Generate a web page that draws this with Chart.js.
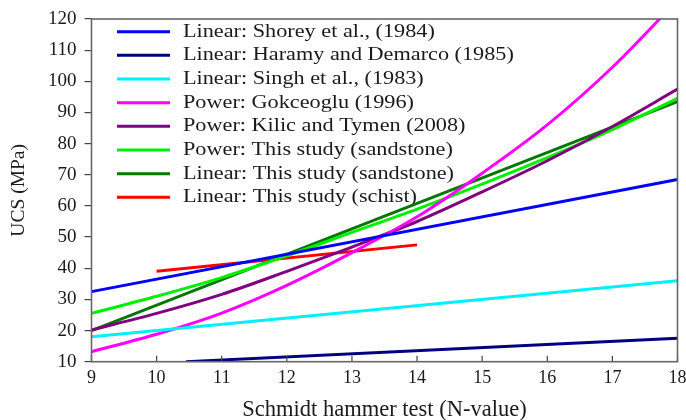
<!DOCTYPE html>
<html>
<head>
<meta charset="utf-8">
<script src="https://cdn.jsdelivr.net/npm/chart.js@4.4.1/dist/chart.umd.min.js"></script>
<style>
    html, body { margin: 0; padding: 0; background: #fff; }
    #wrap { width: 686px; height: 420px; position: relative; }
</style>
</head>
<body>
<div id="wrap"><canvas id="ucs-chart"></canvas></div>
<script>
// --- UCS vs Schmidt hammer rebound (N-value) ---

const X_TICKS = [9, 10, 11, 12, 13, 14, 15, 16, 17, 18];
const Y_TICKS = [10, 20, 30, 40, 50, 60, 70, 80, 90, 100, 110, 120];

// linear fits: two end points each
const shoreyN = [9, 18];
const shoreyUcs = [32.5, 68.5];
const haramyN = [10.45, 18];
const haramyUcs = [10, 17.5];
const singhN = [9, 18];
const singhUcs = [18, 36];
const linSandN = [9, 18];
const linSandUcs = [20, 93.5];
const schistN = [10, 14];
const schistUcs = [39, 47.5];

// power fits: read at each integer N
const curveN = [9, 10, 11, 12, 13, 14, 15, 16, 17, 18];
const gokceogluUcs = [13.2, 18.8, 25.6, 34.5, 45, 56.5, 70.5, 86, 104.5, 126];
const kilicUcs = [20.2, 25.5, 31.6, 39, 46.8, 55, 64.5, 74.5, 85.5, 97.5];
const powSandUcs = [25.5, 31, 37, 44, 51.5, 59, 67, 75.5, 84.5, 94.5];

const SERIES = [
    { label: "Linear: Shorey et al., (1984)", n: shoreyN, v: shoreyUcs, color: "#0000ff" },
    { label: "Linear: Haramy and Demarco (1985)", n: haramyN, v: haramyUcs, color: "#000080" },
    { label: "Linear: Singh et al., (1983)", n: singhN, v: singhUcs, color: "#00f0ff" },
    { label: "Power: Gokceoglu (1996)", n: curveN, v: gokceogluUcs, color: "#ff00ff", curve: true },
    { label: "Power: Kilic and Tymen (2008)", n: curveN, v: kilicUcs, color: "#800080", curve: true },
    { label: "Power: This study (sandstone)", n: curveN, v: powSandUcs, color: "#00f000", curve: true },
    { label: "Linear: This study (sandstone)", n: linSandN, v: linSandUcs, color: "#007800" },
    { label: "Linear: This study (schist)", n: schistN, v: schistUcs, color: "#ff0000" },
];

const SERIF = "'Liberation Serif', 'Times New Roman', serif";
const INK = "#1a1a1a";

// box around the plot, x ticks pointing inward
const frame = {
    id: "frame",
    afterDraw(chart) {
        const { ctx, chartArea: a, scales } = chart;
        ctx.save();
        ctx.strokeStyle = "#444";
        ctx.lineWidth = 1.2;
        ctx.beginPath();
        X_TICKS.forEach(t => {
            const px = scales.x.getPixelForValue(t);
            ctx.moveTo(px, a.bottom);
            ctx.lineTo(px, a.bottom - 6);
        });
        ctx.stroke();
        ctx.strokeStyle = "#666";
        ctx.lineWidth = 1.6;
        ctx.strokeRect(a.left, a.top, a.right - a.left, a.bottom - a.top);
        ctx.restore();
    },
};

// legend drawn inside the plot, under the lines
const innerLegend = {
    id: "innerLegend",
    beforeDatasetsDraw(chart) {
        const { ctx, chartArea: a } = chart;
        ctx.save();
        chart.data.datasets.forEach((ds, i) => {
            const y = a.top + 12.7 + i * 23.66;
            ctx.strokeStyle = ds.borderColor;
            ctx.lineWidth = 3;
            ctx.beginPath();
            ctx.moveTo(a.left + 25.5, y);
            ctx.lineTo(a.left + 78.5, y);
            ctx.stroke();
            ctx.save();
            ctx.translate(a.left + 91.5, y);
            ctx.scale(1.17, 1);
            ctx.fillStyle = INK;
            ctx.font = `19px ${SERIF}`;
            ctx.textBaseline = "middle";
            ctx.fillText(ds.label, 0, 0);
            ctx.restore();
        });
        ctx.restore();
    },
};

new Chart(document.getElementById("ucs-chart"), {
    type: "line",
    data: {
        datasets: SERIES.map(s => ({
            label: s.label,
            data: s.n.map((n, i) => ({ x: n, y: s.v[i] })),
            borderColor: s.color,
            backgroundColor: s.color,
            borderWidth: 3,
            pointRadius: 0,
            fill: false,
            cubicInterpolationMode: s.curve ? "monotone" : "default",
        })),
    },
    options: {
        responsive: true,
        maintainAspectRatio: false,
        animation: false,
        layout: { padding: { top: 19, right: 8.5, left: 0, bottom: 0 } },
        plugins: {
            legend: { display: false },
            tooltip: { enabled: false },
        },
        scales: {
            x: {
                type: "linear",
                min: 9,
                max: 18,
                afterFit: s => { s.height = 58.3; s.paddingRight = 0; s.paddingLeft = 0; },
                afterBuildTicks: s => { s.ticks = X_TICKS.map(v => ({ value: v })); },
                ticks: { color: INK, font: { family: SERIF, size: 18 }, padding: 6, maxRotation: 0 },
                grid: { display: true, drawOnChartArea: false, drawTicks: false },
                border: { display: false },
                title: {
                    display: true,
                    text: "Schmidt hammer test (N-value)",
                    color: INK,
                    font: { family: SERIF, size: 22.5, lineHeight: 0.9 },
                    padding: { top: 0, bottom: 0 },
                },
            },
            y: {
                min: 10,
                max: 120,
                afterFit: s => { s.width = 91.5; s.paddingTop = 0; s.paddingBottom = 0; },
                afterBuildTicks: s => { s.ticks = Y_TICKS.map(v => ({ value: v })); },
                ticks: { color: INK, font: { family: SERIF, size: 19 }, padding: 8 },
                grid: { display: true, drawOnChartArea: false, drawTicks: true, tickLength: 7, color: "#444", lineWidth: 1.2 },
                border: { display: false },
                title: {
                    display: true,
                    text: "UCS (MPa)",
                    color: INK,
                    font: { family: SERIF, size: 19.5 },
                    padding: { top: 7, bottom: 0 },
                },
            },
        },
    },
    plugins: [innerLegend, frame],
});
</script>
</body>
</html>
